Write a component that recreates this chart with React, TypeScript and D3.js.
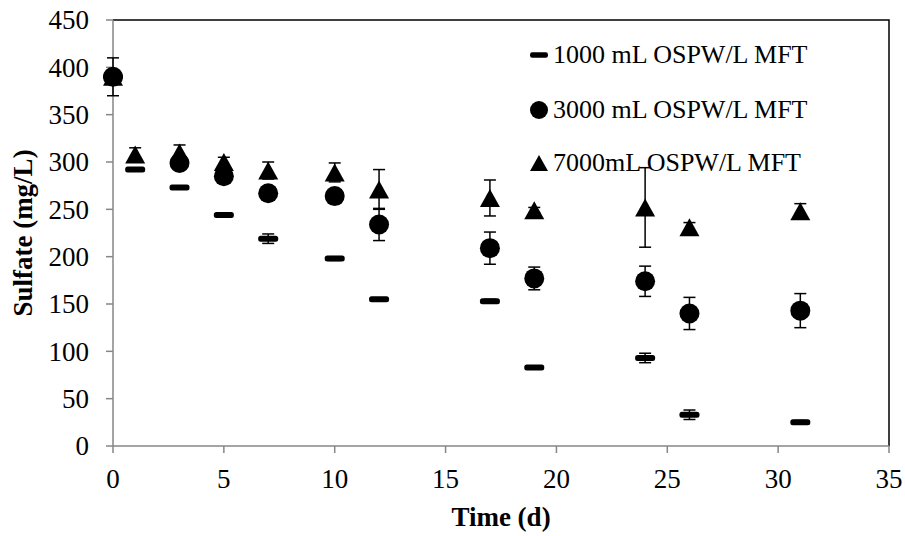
import React from "react";
import * as d3 from "d3";

const days1000 = [0, 1, 3, 5, 7, 10, 12, 17, 19, 24, 26, 31];
const values1000 = [390, 292, 273, 244, 219, 198, 155, 153, 83, 93, 33, 25];
const errors1000 = [0, 1, 1, 1, 5, 2, 1, 2, 1, 5, 5, 2];

const days3000 = [0, 3, 5, 7, 10, 12, 17, 19, 24, 26, 31];
const values3000 = [390, 299, 285, 267, 264, 234, 209, 177, 174, 140, 143];
const errors3000 = [20, 5, 4, 4, 4, 17, 17, 12, 16, 17, 18];

const days7000 = [0, 1, 3, 5, 7, 10, 12, 17, 19, 24, 26, 31];
const values7000 = [390, 308, 310, 300, 291, 289, 271, 262, 249, 252, 231, 248];
const errors7000 = [3, 7, 8, 5, 9, 10, 21, 19, 3, 42, 5, 8];

const seriesLabels = ["1000 mL OSPW/L MFT", "3000 mL OSPW/L MFT", "7000mL OSPW/L MFT"];
const xTicks = [0, 5, 10, 15, 20, 25, 30, 35];
const yTicks = [0, 50, 100, 150, 200, 250, 300, 350, 400, 450];

const W = 905;
const H = 536;
const L = 113, R = 889, T = 20, B = 446;
const FONT = "'Liberation Serif', 'Times New Roman', serif";

type Kind = "dash" | "circle" | "triangle";

function Marker({ kind, x, y, s = 1 }: { kind: Kind; x: number; y: number; s?: number }) {
  if (kind === "dash") {
    return <rect x={x - 10 * s} y={y - 3 * s} width={20 * s} height={6 * s} rx={2.5 * s} fill="#000" />;
  }
  if (kind === "circle") {
    return <circle cx={x} cy={y} r={10 * s} fill="#000" />;
  }
  const w = 10 * s, h = 9 * s;
  return <path d={`M${x},${y - h}L${x + w},${y + h}L${x - w},${y + h}Z`} fill="#000" />;
}

export default function App() {
  const x = d3.scaleLinear().domain([0, 35]).range([L, R]);
  const y = d3.scaleLinear().domain([0, 450]).range([B, T]);

  const series = [
    { kind: "dash" as Kind, days: days1000, values: values1000, errors: errors1000 },
    { kind: "triangle" as Kind, days: days7000, values: values7000, errors: errors7000 },
    { kind: "circle" as Kind, days: days3000, values: values3000, errors: errors3000 },
  ];
  const legendKinds: Kind[] = ["dash", "circle", "triangle"];
  const legendY = [55, 110, 163];
  const grey = "#868686";

  return (
    <svg width={W} height={H} style={{ position: "absolute", left: 0, top: 0, background: "#fff" }}>
      <rect x={0} y={0} width={W} height={H} fill="#fff" />
      <path d={`M${L},${T}H${R}V${B}`} fill="none" stroke="#000" strokeWidth={1.5} />
      <line x1={L} y1={T} x2={L} y2={B} stroke={grey} strokeWidth={1.5} />
      <line x1={L} y1={B} x2={R} y2={B} stroke={grey} strokeWidth={1.5} />
      {yTicks.map((t) => (
        <g key={"y" + t}>
          <line x1={L - 7} x2={L} y1={y(t)} y2={y(t)} stroke={grey} strokeWidth={1.5} />
          <text x={89} y={y(t)} dy="0.34em" textAnchor="end" fontFamily={FONT} fontSize={27} fill="#000">
            {t}
          </text>
        </g>
      ))}
      {xTicks.map((t) => (
        <g key={"x" + t}>
          <line x1={x(t)} x2={x(t)} y1={B} y2={B + 7} stroke={grey} strokeWidth={1.5} />
          <text x={x(t)} y={488} textAnchor="middle" fontFamily={FONT} fontSize={27} fill="#000">
            {t}
          </text>
        </g>
      ))}
      <text x={(L + R) / 2} y={526} textAnchor="middle" fontFamily={FONT} fontSize={27} fontWeight="bold" fill="#000">
        Time (d)
      </text>
      <text
        transform={`translate(32,${(T + B) / 2}) rotate(-90)`}
        textAnchor="middle"
        fontFamily={FONT}
        fontSize={27}
        fontWeight="bold"
        fill="#000"
      >
        Sulfate (mg/L)
      </text>
      {series.map((s, si) => (
        <g key={"s" + si}>
          {s.days.map((d, i) => {
            const cx = x(d);
            const cy = y(s.values[i]);
            const e = s.errors[i];
            const y1 = y(s.values[i] + e);
            const y2 = y(s.values[i] - e);
            return (
              <g key={i}>
                {e > 0 && (
                  <g stroke="#000" strokeWidth={1.5}>
                    <line x1={cx} x2={cx} y1={y1} y2={y2} />
                    <line x1={cx - 6} x2={cx + 6} y1={y1} y2={y1} />
                    <line x1={cx - 6} x2={cx + 6} y1={y2} y2={y2} />
                  </g>
                )}
                <Marker kind={s.kind} x={cx} y={cy} />
              </g>
            );
          })}
        </g>
      ))}
      {seriesLabels.map((lab, i) => (
        <g key={"l" + i}>
          <Marker kind={legendKinds[i]} x={539} y={legendY[i]} s={0.9} />
          <text x={553} y={legendY[i] + 8} fontFamily={FONT} fontSize={26} fill="#000">
            {lab}
          </text>
        </g>
      ))}
    </svg>
  );
}
